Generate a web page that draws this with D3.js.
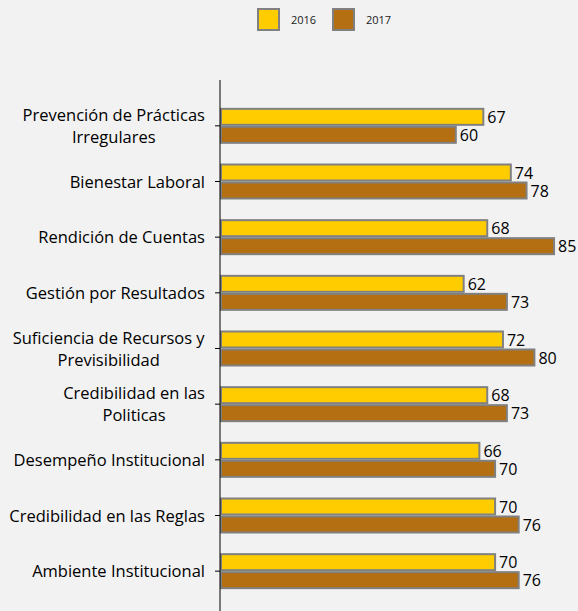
<!DOCTYPE html>
<html>
<head>
<meta charset="utf-8">
<script src="https://cdn.jsdelivr.net/npm/d3@7"></script>
<style>
  html, body { margin: 0; padding: 0; background: #f2f2f2; }
  svg { display: block; }
</style>
</head>
<body>
<div id="chart"></div>
<script>
// datos del gráfico
const categories = [
  ["Prevención de Prácticas", "Irregulares"],
  ["Bienestar Laboral"],
  ["Rendición de Cuentas"],
  ["Gestión por Resultados"],
  ["Suficiencia de Recursos y", "Previsibilidad"],
  ["Credibilidad en las", "Politicas"],
  ["Desempeño Institucional"],
  ["Credibilidad en las Reglas"],
  ["Ambiente Institucional"]
];
const seriesNames = ["2016", "2017"];
const values2016 = [67, 74, 68, 62, 72, 68, 66, 70, 70];
const values2017 = [60, 78, 85, 73, 80, 73, 70, 76, 76];
const colors = ["#ffcc00", "#b36f12"];

const W = 578, H = 611;
const axisX = 220;
const font = "'Open Sans', sans-serif";

const svg = d3.select('#chart').append('svg').attr('width', W).attr('height', H);
svg.append('rect').attr('width', W).attr('height', H).attr('fill', '#f2f2f2');

const keys = categories.map(c => c.join(' '));
const x = d3.scaleLinear().domain([0, 100]).range([axisX, axisX + 393]);
const y = d3.scaleBand().domain(keys).range([98, 599]);
const ys = d3.scaleBand().domain(seriesNames).range([-18, 18]);

const rows = keys.map((k, i) => ({ key: k, lines: categories[i], vals: [values2016[i], values2017[i]] }));

// barras
const g = svg.append('g');
rows.forEach(r => {
  const cy = y(r.key) + y.bandwidth() / 2;
  seriesNames.forEach((s, j) => {
    const v = r.vals[j];
    g.append('rect')
      .attr('x', x(0) + 1).attr('y', cy + ys(s) + 1)
      .attr('width', x(v) - x(0) - 1).attr('height', ys.bandwidth() - 2)
      .attr('fill', colors[j]).attr('stroke', '#808080').attr('stroke-width', 2);
    g.append('text')
      .attr('x', x(v) + 4).attr('y', cy + ys(s) + ys.bandwidth() / 2 + 6)
      .attr('font-family', font).attr('font-size', 16).attr('fill', '#000')
      .text(v);
  });
});

// eje vertical
const axis = svg.append('g').attr('transform', `translate(${axisX},0)`)
  .call(d3.axisLeft(y).tickSize(5).tickFormat('').tickSizeOuter(0));
axis.select('.domain').remove();
axis.selectAll('.tick line').attr('stroke', '#000');
svg.append('line').attr('x1', axisX).attr('x2', axisX).attr('y1', 80).attr('y2', H)
  .attr('stroke', '#000').attr('stroke-width', 1);

// etiquetas de categorías
rows.forEach(r => {
  const cy = y(r.key) + y.bandwidth() / 2;
  const n = r.lines.length;
  const lh = 22;
  const t = svg.append('text')
    .attr('font-family', font).attr('font-size', 16.5).attr('fill', '#000')
    .attr('text-anchor', 'middle');
  r.lines.forEach((l, i) => {
    t.append('tspan').attr('x', 0).attr('y', cy + 6 + (i - (n - 1) / 2) * lh).text(l);
  });
  const w = t.node().getBBox().width;
  t.attr('transform', `translate(${205 - w / 2},0)`);
});

// leyenda
const leg = svg.append('g');
const legX = [258, 333];
seriesNames.forEach((s, j) => {
  leg.append('rect').attr('x', legX[j]).attr('y', 9).attr('width', 21).attr('height', 21)
    .attr('fill', colors[j]).attr('stroke', '#808080').attr('stroke-width', 2);
  leg.append('text').attr('x', legX[j] + 33).attr('y', 24)
    .attr('font-family', font).attr('font-size', 11).attr('fill', '#1a1a1a').text(s);
});
</script>
</body>
</html>
